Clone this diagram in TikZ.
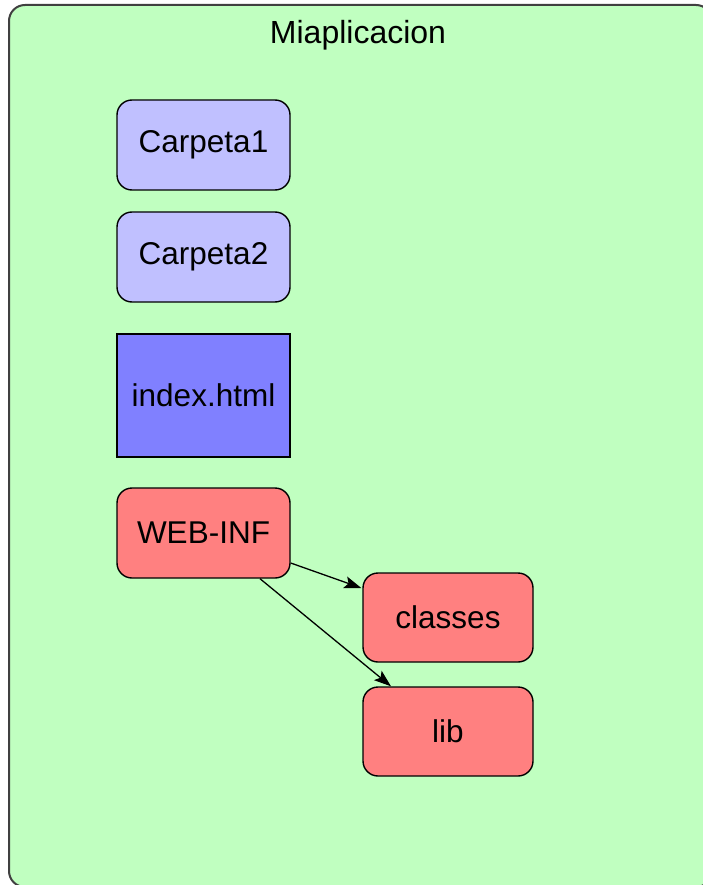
\documentclass[tikz,border=0pt]{standalone}
\usepackage{fontspec}
\setmainfont{Liberation Sans}
\usetikzlibrary{arrows.meta}
\definecolor{bggreen}{HTML}{C0FFC0}
\definecolor{lav}{HTML}{C0C0FF}
\definecolor{blu}{HTML}{8080FF}
\definecolor{redd}{HTML}{FF8080}
\definecolor{frame}{HTML}{404040}
\tikzset{
  box/.style={draw=black, line width=1.4pt, rounded corners=15pt, minimum width=173pt, minimum height=90pt, inner sep=0pt, font=\fontsize{31.5}{36}\selectfont},
  sqbox/.style={draw=black, line width=1.4pt, minimum width=173pt, minimum height=123pt, inner sep=0pt, font=\fontsize{31.5}{36}\selectfont},
  conn/.style={line width=1.3pt, -{Stealth[length=17pt,width=12pt,inset=3.5pt]}}
}
\begin{document}
\begin{tikzpicture}[x=1pt,y=-1pt]
\clip (0,0) rectangle (703,885);
\draw[fill=bggreen, draw=frame, line width=2pt, rounded corners=16pt] (9,5) rectangle (712,887);
\node[font=\fontsize{32}{36}\selectfont] (title) at (358,35) {Miaplicacion};
\node[box, fill=lav] (c1) at (203.5,145) {Carpeta1};
\node[box, fill=lav] (c2) at (203.5,257) {Carpeta2};
\node[sqbox, fill=blu] (idx) at (203.5,395.5) {index.html};
\node[box, fill=redd] (web) at (203.5,533) {WEB-INF};
\node[box, fill=redd, minimum width=170pt, minimum height=89pt] (cls) at (448,617.5) {classes};
\node[box, fill=redd, minimum width=170pt, minimum height=89pt] (lib) at (448,731.5) {lib};
\draw[conn] ([yshift=-30pt]web.east) -- ([xshift=-1pt,yshift=29.5pt]cls.west);
\draw[conn] ([xshift=56.5pt]web.south) -- ([xshift=-57pt]lib.north);
\end{tikzpicture}
\end{document}
